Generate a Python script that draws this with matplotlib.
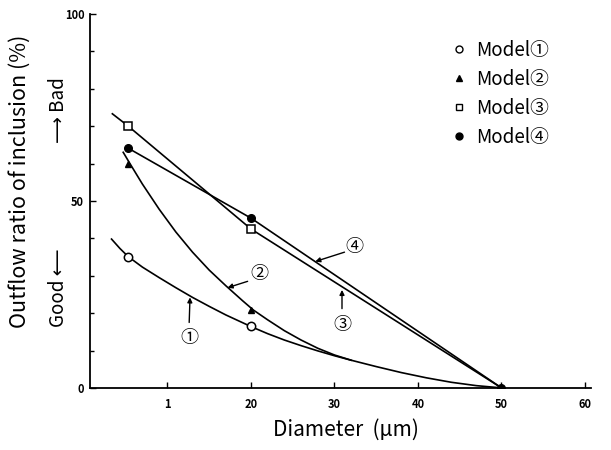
import matplotlib
matplotlib.use("Agg")
import matplotlib.pyplot as plt
from matplotlib.lines import Line2D

plt.rcParams['font.family'] = ['Noto Sans CJK JP', 'DejaVu Sans']

# points (x: diameter um, y: outflow ratio %)
pt_x = [5.3, 20, 50]
m1_y = [35.1, 16.6]
m2_y = [60.0, 20.8]
m3_y = [70.0, 42.5]
m4_y = [64.1, 45.4, 0]

# drawn curves
c1_x = [3.3, 4.3, 5.3, 7, 9, 11, 13, 15, 17, 20, 22, 24, 26, 28, 30, 32, 35, 38, 41, 44, 47, 50]
c1_y = [39.8, 37.3, 35.1, 32.3, 29.5, 26.8, 24.2, 21.8, 19.5, 16.4, 14.5, 12.8, 11.3, 9.9,
        8.6, 7.4, 5.7, 4.1, 2.7, 1.5, 0.6, 0]
c2_x = [4.7, 5.5, 7, 9, 11, 13, 15, 17, 19, 20.3, 22, 24, 26, 28, 30, 32]
c2_y = [63.0, 60.0, 54.5, 47.8, 41.7, 36.3, 31.5, 27.3, 23.3, 20.8, 18.2, 15.3, 12.8, 10.6, 8.8, 7.4]
c3_x = [3.4, 5.3, 20, 50]
c3_y = [73.3, 70.0, 42.5, 0]
c4_x = [5.3, 20, 50]
c4_y = [64.1, 45.4, 0]

xticks = [10, 20, 30, 40, 50, 60]
xticklabels = ['1', '20', '30', '40', '50', '60']
yticks = [0, 50, 100]

labels = ['Model①', 'Model②', 'Model③', 'Model④']

fig = plt.figure(figsize=(6.11, 4.5), dpi=100)
ax = fig.add_axes([0.147, 0.138, 0.820, 0.831])

lw = 1.2
ax.plot(c1_x, c1_y, 'k-', lw=lw)
ax.plot(c2_x, c2_y, 'k-', lw=lw)
ax.plot(c3_x, c3_y, 'k-', lw=lw)
ax.plot(c4_x, c4_y, 'k-', lw=lw)

ax.plot(pt_x[:2], m1_y, 'o', mfc='white', mec='k', ms=6, mew=1.1)
ax.plot(pt_x[:2], m2_y, '^', mfc='k', mec='k', ms=4.5)
ax.plot(pt_x[:2], m3_y, 's', mfc='white', mec='k', ms=6, mew=1.1)
ax.plot(pt_x, m4_y, 'o', mfc='k', mec='k', ms=5.5)

# curve tags with arrows
arr = dict(arrowstyle='-|>', lw=1.0, color='k', mutation_scale=7, shrinkA=0, shrinkB=0)
tags = [('①', (12.7, 24.2), (12.6, 13.3), (12.6, 17.5)),
        ('②', (17.2, 26.8), (21.0, 30.5), (19.6, 28.5)),
        ('③', (30.9, 26.2), (30.9, 16.8), (30.9, 21.2)),
        ('④', (27.7, 33.8), (32.4, 37.8), (31.2, 36.3))]
for t, tip, lab, tail in tags:
    ax.annotate('', xy=tip, xytext=tail, arrowprops=arr)
    ax.text(lab[0], lab[1], t, ha='center', va='center', fontsize=13)

ax.set_xlim(0.7, 60.7)
ax.set_ylim(0, 100)
ax.spines['top'].set_visible(False)
ax.spines['right'].set_visible(False)
ax.spines['left'].set_linewidth(1.3)
ax.spines['bottom'].set_linewidth(1.3)

ax.set_xticks(xticks)
ax.set_xticklabels(xticklabels)
ax.set_yticks(yticks)
ax.set_yticks(range(0, 101, 10), minor=True)
ax.tick_params(axis='x', direction='in', length=4, width=1, pad=7, labelsize=8)
ax.tick_params(axis='y', direction='in', length=4, width=1, pad=4, labelsize=8)
ax.tick_params(axis='y', which='minor', direction='in', length=3, width=1)
for lb in ax.get_xticklabels() + ax.get_yticklabels():
    lb.set_fontweight('bold')

handles = [Line2D([], [], ls='', marker='o', mfc='white', mec='k', ms=5),
           Line2D([], [], ls='', marker='^', mfc='k', mec='k', ms=4.5),
           Line2D([], [], ls='', marker='s', mfc='white', mec='k', ms=5),
           Line2D([], [], ls='', marker='o', mfc='k', mec='k', ms=5)]
fig.legend(handles, labels, loc='upper left', bbox_to_anchor=(0.741, 0.911),
           frameon=False, fontsize=13.5, handlelength=0.7, handletextpad=0.55,
           labelspacing=0.42, borderpad=0, borderaxespad=0)

fig.text(0.033, 0.596, 'Outflow ratio of inclusion (%)', rotation=90,
         ha='center', va='center', fontsize=15.5)
fig.text(0.095, 0.36, 'Good ⟵', rotation=90, ha='center', va='center', fontsize=13.5)
fig.text(0.095, 0.756, '⟶ Bad', rotation=90, ha='center', va='center', fontsize=13.5)
fig.text(0.566, 0.044, 'Diameter  (μm)', ha='center', va='center', fontsize=15)

fig.savefig('out.png', dpi=100)
